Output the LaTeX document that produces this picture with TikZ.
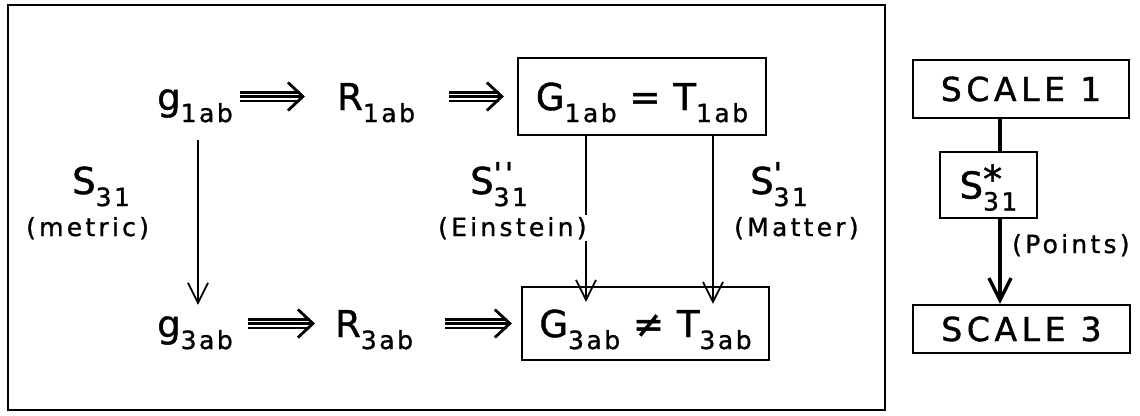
\documentclass[tikz,border=0pt]{standalone}
\usepackage{fontspec}
\setmainfont{DejaVu Sans}[LetterSpace=3,FakeBold=1.2]
\newfontfamily\subfont{DejaVu Sans}[LetterSpace=10,FakeBold=1.2]
\newfontfamily\lblfont{DejaVu Sans}[LetterSpace=13,FakeBold=1]
\newfontfamily\capfont{DejaVu Sans}[LetterSpace=14,FakeBold=1.2]
\usetikzlibrary{arrows.meta,calc,positioning}

% lowered index and raised mark, as lettered in the figure
\newcommand{\lowsub}[1]{\raisebox{-12pt}{\subfont\fontsize{25}{27}\selectfont #1}}
\newcommand{\hisup}[1]{\makebox[0pt][l]{\raisebox{10pt}{\subfont\fontsize{30}{32}\selectfont #1}}}
% three-line implication arrow: from, to, gap at start, gap at end
\newcommand{\tripleto}[4]{%
  \draw[imp,double distance=6pt,shorten <=#3pt,shorten >=#4pt+5pt] (#1) -- (#2);
  \draw[imp,-{Straight Barb[length=15pt,width=28pt,line width=2.8pt]},
        shorten <=#3pt,shorten >=#4pt] (#1) -- (#2);}

\begin{document}
\begin{tikzpicture}[x=1pt,y=-1pt,
  every node/.style={inner sep=0pt},
  tx/.style={font=\fontsize{37}{39}\selectfont,text height=31pt,text depth=4pt},
  lbl/.style={font=\lblfont\fontsize{25}{27}\selectfont,anchor=base west},
  boxed/.style={draw,line width=2.2pt},
  imp/.style={line width=2.4pt},
  down/.style={line width=1.8pt,-{Straight Barb[length=20pt,width=20pt,line width=1.8pt]}},
  link/.style={line width=3.4pt}]
  \useasboundingbox (0,0) rectangle (1140,415);

  % scale 1 to scale 3, left panel
  \draw[line width=2.6pt] (8,5) rectangle (885,410);

  \node[tx,anchor=west] (g1) at (157,96.5) {g\lowsub{1ab}};
  \node[tx,anchor=west] (R1) at (337,96.5) {R\lowsub{1ab}};
  \node[tx,boxed,minimum width=248pt,minimum height=77pt] (G1) at (642,96.5)
    {G\lowsub{1ab} = T\lowsub{1ab}};

  \node[tx,anchor=west] (g3) at (157,323.5) {g\lowsub{3ab}};
  \node[tx,anchor=west] (R3) at (335,323.5) {R\lowsub{3ab}};
  \node[tx,boxed,minimum width=247pt,minimum height=73pt] (G3) at (645.5,323.5)
    {G\lowsub{3ab} ≠ T\lowsub{3ab}};

  \tripleto{g1.east}{R1.west}{7}{32}
  \tripleto{R1.east}{R1.east -| G1.west}{34}{13}
  \tripleto{g3.east}{R3.west}{15}{20}
  \tripleto{R3.east}{R3.east -| G3.west}{32}{9}

  \coordinate (metx) at (198,0);
  \coordinate (einx) at (586,0);
  \coordinate (matx) at (713,0);
  \draw[down,shorten <=26pt,shorten >=1pt] (g1.south -| metx) -- (g3.north -| metx);
  \draw[down,shorten >=-16pt] (G1.south -| einx) -- (G3.north -| einx);
  \draw[down,shorten >=-18pt] (G1.south -| matx) -- (G3.north -| matx);

  \node[tx,anchor=base west,text height=,text depth=] (sm) at (72,194) {S\lowsub{31}};
  \node[lbl] (met) at (26,236) {(metric)};
  \node[tx,anchor=base west,text height=,text depth=] (se) at (470,194) {S\hisup{''}\lowsub{31}};
  \node[lbl,fill=white,inner sep=2pt] (ein) at (436,236) {(Einstein)};
  \node[tx,anchor=base west,text height=,text depth=] (sn) at (750,194) {S\hisup{'}\lowsub{31}};
  \node[lbl] (mat) at (734,236) {(Matter)};

  % right panel
  \node[boxed,font=\capfont\fontsize{33}{35}\selectfont,minimum width=216pt,minimum height=58pt]
    (sc1) at (1021,89) {SCALE 1};
  \node[boxed,tx,minimum width=97pt,minimum height=66pt] (sst) at (988.5,185)
    {S\makebox[0pt][l]{\raisebox{6pt}{\fontsize{38}{40}\selectfont *}}\lowsub{31}};
  \node[boxed,font=\capfont\fontsize{33}{35}\selectfont,minimum width=217pt,minimum height=48pt]
    (sc3) at (1021.5,329) {SCALE 3};
  \coordinate (spine) at (1000,0);
  \draw[link] (sc1.south -| spine) -- (sst.north -| spine);
  \draw[link,-{Straight Barb[length=22pt,width=22pt,line width=3.4pt]}]
    (sst.south -| spine) -- (sc3.north -| spine);
  \node[lbl] (pts) at (1012,253) {(Points)};
\end{tikzpicture}
\end{document}
